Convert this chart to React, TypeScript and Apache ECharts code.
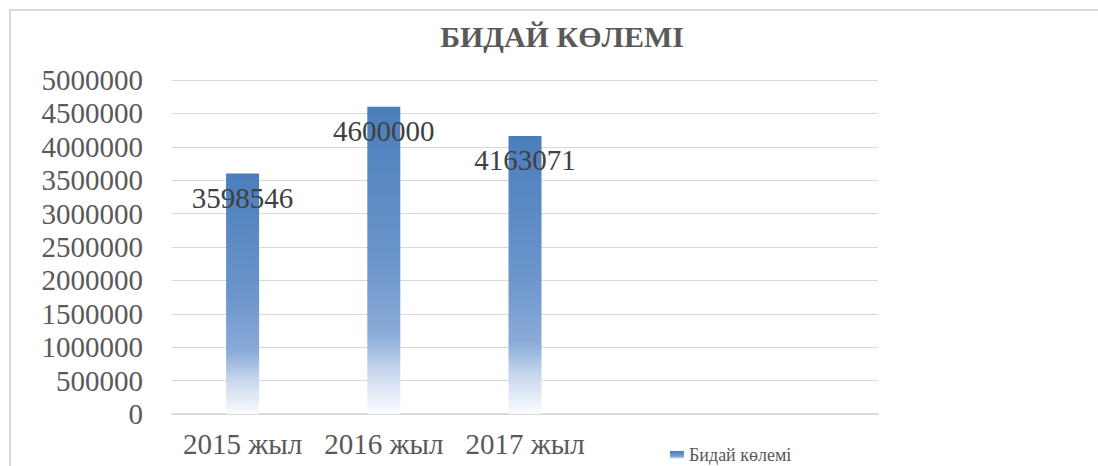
import React, { useEffect, useRef } from "react";
import * as echarts from "echarts";

const categories = ["2015 жыл", "2016 жыл", "2017 жыл", "", ""];
const values = [3598546, 4600000, 4163071];
const seriesName = "Бидай көлемі";
const titleText = "БИДАЙ КӨЛЕМІ";

const FONT = "'Liberation Serif', 'Times New Roman', serif";

export default function App() {
  const ref = useRef<HTMLDivElement>(null);
  useEffect(() => {
    if (!ref.current) return;
    const chart = echarts.init(ref.current, null, { renderer: "svg" });
    const grad = new echarts.graphic.LinearGradient(0, 0, 0, 1, [
      { offset: 0, color: "#4a7ebb" },
      { offset: 0.5, color: "#6b95cb" },
      { offset: 0.74, color: "#8aabd8" },
      { offset: 0.86, color: "#c8d7ed" },
      { offset: 1, color: "#fbfcfe" },
    ]);
    chart.setOption({
      animation: false,
      backgroundColor: "#ffffff",
      textStyle: { fontFamily: FONT },
      title: {
        text: titleText,
        left: 557,
        top: 16,
        textAlign: "center",
        textStyle: { fontFamily: FONT, fontSize: 30, fontWeight: "bold", color: "#595959" },
      },
      graphic: [
        {
          type: "rect",
          shape: { x: 10, y: 10, width: 1100, height: 470 },
          style: { fill: "none", stroke: "#d9d9d9", lineWidth: 2 },
          silent: true,
        },
      ],
      legend: {
        left: 670,
        top: 446,
        itemWidth: 14,
        itemHeight: 8,
        icon: "rect",
        padding: 0,
        textStyle: { fontFamily: FONT, fontSize: 18, color: "#595959" },
        data: [seriesName],
      },
      grid: { left: 172, right: 220, top: 80, bottom: 52, containLabel: false },
      xAxis: {
        type: "category",
        data: categories,
        axisLine: { lineStyle: { color: "#d9d9d9", width: 2 } },
        axisTick: { show: false },
        axisLabel: {
          interval: 0,
          margin: 15,
          fontFamily: FONT,
          fontSize: 29,
          color: "#595959",
        },
      },
      yAxis: {
        type: "value",
        min: 0,
        max: 5000000,
        interval: 500000,
        axisLine: { show: false },
        axisTick: { show: false },
        splitLine: { lineStyle: { color: "#d9d9d9", width: 1 } },
        axisLabel: {
          margin: 29,
          fontFamily: FONT,
          fontSize: 29,
          color: "#595959",
          formatter: (v: number) => String(v),
        },
      },
      series: [
        {
          name: seriesName,
          type: "bar",
          data: values,
          barWidth: 33,
          itemStyle: { color: grad },
          label: {
            show: true,
            position: "insideTop",
            distance: 10,
            fontFamily: FONT,
            fontSize: 29,
            color: "#404040",
            formatter: (p: any) => String(p.value),
          },
        },
      ],
    });
    return () => chart.dispose();
  }, []);
  return (
    <div
      ref={ref}
      style={{ position: "fixed", left: 0, top: 0, width: 1098, height: 466 }}
    />
  );
}
